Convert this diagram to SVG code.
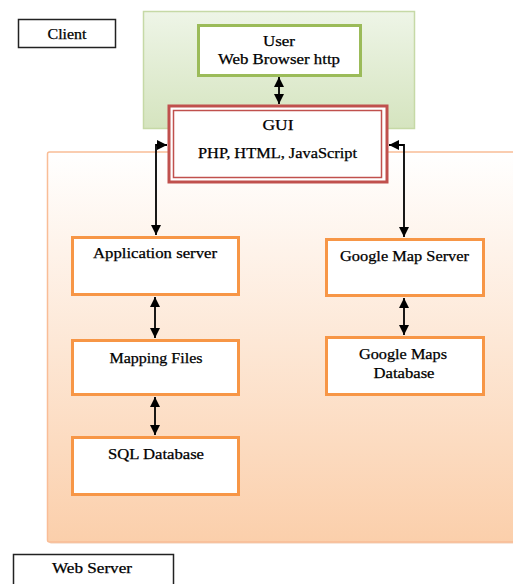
<svg xmlns="http://www.w3.org/2000/svg" width="513" height="584" viewBox="0 0 513 584">
<defs>
<linearGradient id="gGreen" x1="0" y1="0" x2="0" y2="1">
<stop offset="0" stop-color="#eef5e7"/>
<stop offset="1" stop-color="#d5e4bf"/>
</linearGradient>
<linearGradient id="gOrange" x1="0" y1="0" x2="0" y2="1">
<stop offset="0" stop-color="#ffffff"/>
<stop offset="1" stop-color="#fbcfab"/>
</linearGradient>
<marker id="ah" viewBox="0 0 10 10" refX="10" refY="5" markerWidth="10" markerHeight="10" markerUnits="userSpaceOnUse" orient="auto-start-reverse">
<path d="M0,0 L10,5 L0,10 z" fill="#000"/>
</marker>
</defs>
<style>
text{font-family:'Liberation Serif','DejaVu Serif',serif;font-size:14px;fill:#000;text-anchor:middle;stroke:#000;stroke-width:0.25}
.ob{fill:#fff;stroke:#f79646;stroke-width:3}
.gb{fill:#fff;stroke:#9bbb59;stroke-width:3}
.kb{fill:#fff;stroke:#222;stroke-width:1.5}
.c{fill:none;stroke:#000;stroke-width:1.8;marker-start:url(#ah);marker-end:url(#ah)}
</style>
<rect width="513" height="584" fill="#fff"/>
<g id="client-panel">
<rect x="143.5" y="11.5" width="271" height="117" fill="url(#gGreen)" stroke="#c6d9a6" stroke-width="1.5"/>
</g>
<g id="webserver-panel">
<rect x="48" y="152" width="480" height="390" rx="2" fill="#e9b08a" opacity="0.6" transform="translate(1,1.5)"/>
<rect x="47.5" y="152" width="480" height="390" rx="2" fill="url(#gOrange)" stroke="#f9bd96" stroke-width="1.5"/>
</g>
<g id="client-label">
<rect class="kb" x="18.5" y="19.5" width="97" height="28"/>
<text x="67" y="39" textLength="39" lengthAdjust="spacingAndGlyphs" font-family="Liberation Serif, serif">Client</text>
</g>
<g id="webserver-label">
<rect class="kb" x="13.5" y="554.5" width="160" height="40"/>
<text x="92" y="573" textLength="80" lengthAdjust="spacingAndGlyphs" font-family="Liberation Serif, serif">Web Server</text>
</g>
<g id="user">
<rect class="gb" x="198.5" y="25.5" width="162" height="50"/>
<text x="279" y="46" textLength="32" lengthAdjust="spacingAndGlyphs" font-family="Liberation Serif, serif">User</text>
<text x="279" y="64" textLength="122" lengthAdjust="spacingAndGlyphs" font-family="Liberation Serif, serif">Web Browser http</text>
</g>
<g id="gui">
<rect x="169" y="106" width="218" height="76" fill="#fff" stroke="#c0504d" stroke-width="3"/>
<rect x="173.5" y="110.5" width="208" height="67" fill="none" stroke="#c0504d" stroke-width="1.5"/>
<text x="278" y="130" textLength="31" lengthAdjust="spacingAndGlyphs" font-family="Liberation Serif, serif">GUI</text>
<text x="277.5" y="158" textLength="159" lengthAdjust="spacingAndGlyphs" font-family="Liberation Serif, serif">PHP, HTML, JavaScript</text>
</g>
<g id="app-server">
<rect class="ob" x="72.5" y="237.5" width="166" height="57"/>
<text x="155" y="258" textLength="124" lengthAdjust="spacingAndGlyphs" font-family="Liberation Serif, serif">Application server</text>
</g>
<g id="mapping-files">
<rect class="ob" x="72.5" y="340.5" width="166" height="54"/>
<text x="156" y="363" textLength="93" lengthAdjust="spacingAndGlyphs" font-family="Liberation Serif, serif">Mapping Files</text>
</g>
<g id="sql-db">
<rect class="ob" x="72.5" y="437.5" width="166" height="57"/>
<text x="156" y="459" textLength="96" lengthAdjust="spacingAndGlyphs" font-family="Liberation Serif, serif">SQL Database</text>
</g>
<g id="gmap-server">
<rect class="ob" x="326.5" y="239.5" width="157" height="56"/>
<text x="404.5" y="261" textLength="129" lengthAdjust="spacingAndGlyphs" font-family="Liberation Serif, serif">Google Map Server</text>
</g>
<g id="gmap-db">
<rect class="ob" x="326.5" y="337.5" width="157" height="57"/>
<text x="403" y="359" textLength="88" lengthAdjust="spacingAndGlyphs" font-family="Liberation Serif, serif">Google Maps</text>
<text x="404" y="378" textLength="61" lengthAdjust="spacingAndGlyphs" font-family="Liberation Serif, serif">Database</text>
</g>
<g id="connectors">
<line class="c" x1="279" y1="77" x2="279" y2="104"/>
<path class="c" d="M167,145 H156 V235"/>
<path class="c" d="M389,145 H404 V237"/>
<line class="c" x1="155" y1="297" x2="155" y2="338"/>
<line class="c" x1="155" y1="397" x2="155" y2="435"/>
<line class="c" x1="404" y1="298" x2="404" y2="335"/>
</g>
</svg>
